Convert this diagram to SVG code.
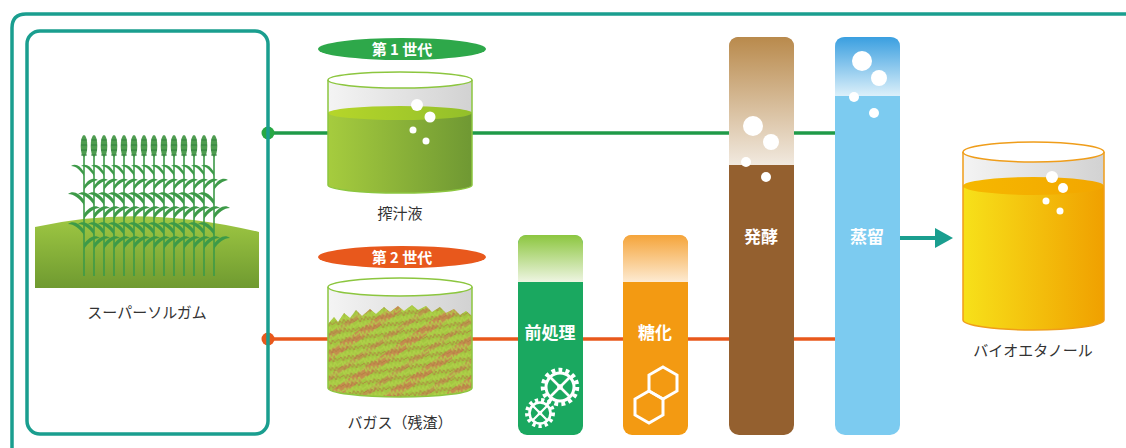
<svg xmlns="http://www.w3.org/2000/svg" xmlns:xlink="http://www.w3.org/1999/xlink" width="1126" height="448" viewBox="0 0 1126 448">
  <style>
    .frame { fill: none; stroke: #1a9e8f; stroke-width: 3.5; }
    .label { font-family: "Noto Sans CJK JP", "Noto Sans", sans-serif; font-size: 15px; fill: #333; text-anchor: middle; }
    .pill { font-family: "Noto Sans CJK JP", "Noto Sans", sans-serif; font-size: 15px; font-weight: bold; fill: #fff; text-anchor: middle; }
    .step { font-family: "Noto Sans CJK JP", "Noto Sans", sans-serif; font-size: 17px; font-weight: bold; fill: #fff; text-anchor: middle; }
    .bubble { fill: #fff; }
    .icon { fill: none; stroke: #fff; }
  </style>
  <defs>
    <linearGradient id="ground" x1="0" y1="0" x2="0" y2="1">
      <stop offset="0" stop-color="#9fc843"/>
      <stop offset="1" stop-color="#6f9a30"/>
    </linearGradient>
    <linearGradient id="glass" x1="0" y1="0" x2="1" y2="0">
      <stop offset="0" stop-color="#f4f4f4"/>
      <stop offset="1" stop-color="#d2d2d2"/>
    </linearGradient>
    <linearGradient id="juice" x1="0" y1="0" x2="1" y2="0">
      <stop offset="0" stop-color="#a6cc3e"/>
      <stop offset="1" stop-color="#6f9833"/>
    </linearGradient>
    <linearGradient id="juiceTop" x1="0" y1="0" x2="1" y2="0">
      <stop offset="0" stop-color="#b6d62a"/>
      <stop offset="1" stop-color="#93bf2a"/>
    </linearGradient>
    <linearGradient id="ethanol" x1="0" y1="0" x2="1" y2="0">
      <stop offset="0" stop-color="#f7e11a"/>
      <stop offset="1" stop-color="#f0a000"/>
    </linearGradient>
    <linearGradient id="ethanolTop" x1="0" y1="0" x2="1" y2="0">
      <stop offset="0" stop-color="#f6b800"/>
      <stop offset="1" stop-color="#f2a600"/>
    </linearGradient>
    <linearGradient id="preTop" x1="0" y1="0" x2="0" y2="1">
      <stop offset="0" stop-color="#8cc63f"/>
      <stop offset="1" stop-color="#eef5e2"/>
    </linearGradient>
    <linearGradient id="sugarTop" x1="0" y1="0" x2="0" y2="1">
      <stop offset="0" stop-color="#f5a43a"/>
      <stop offset="1" stop-color="#fdebd2"/>
    </linearGradient>
    <linearGradient id="fermTop" x1="0" y1="0" x2="0" y2="1">
      <stop offset="0" stop-color="#b98a4c"/>
      <stop offset="1" stop-color="#f1e9df"/>
    </linearGradient>
    <linearGradient id="distTop" x1="0" y1="0" x2="0" y2="1">
      <stop offset="0" stop-color="#3a9fe0"/>
      <stop offset="1" stop-color="#dcf0fa"/>
    </linearGradient>
    <!-- diagonal colour banding of the fibres -->
    <pattern id="bands" width="34" height="34" patternUnits="userSpaceOnUse" patternTransform="rotate(-35)">
      <rect width="34" height="34" fill="#a4c641"/>
      <rect y="0" width="34" height="9" fill="#c48d4e"/>
      <rect y="20" width="34" height="5" fill="#b99a4c"/>
    </pattern>
    <!-- jagged straw strokes -->
    <pattern id="fibre" width="22" height="9" patternUnits="userSpaceOnUse" patternTransform="rotate(-8)">
      <polyline points="0,3 2,0 3,5 5,1 7,6 9,0 11,5 13,1 15,6 17,0 19,4 22,2" fill="none" stroke="#b2d24a" stroke-width="1.2" opacity="0.85"/>
      <polyline points="0,7 2,5 4,9 6,5 8,8 10,4 12,8 14,5 16,9 18,5 20,8 22,6" fill="none" stroke="#b07a40" stroke-width="1" opacity="0.7"/>
    </pattern>
    <clipPath id="bagasseClip">
      <path d="M328,324 L334,317 L338,322 L344,313 L350,318 L356,310 L362,316 L370,309 L376,314 L384,307 L390,312 L398,306 L404,311 L412,305 L418,310 L426,306 L432,312 L440,307 L446,313 L454,309 L460,315 L466,311 L472,316 V388 A72,9 0 0 1 328,388 Z"/>
    </clipPath>
    <!-- one sorghum stalk, base at origin -->
    <g id="stalk">
      <path d="M0,0 V-124" stroke="#3d9a48" stroke-width="1.6" fill="none"/>
      <ellipse cx="0" cy="-130" rx="3.3" ry="11" fill="#4f9c50"/>
      <path d="M-3,-136 H3 M-3,-131 H3 M-3,-126 H3 M-3,-121 H3" stroke="#2f7d3c" stroke-width="0.9"/>
      <path d="M0,-104 C-4,-111 -9,-113 -13,-110 C-8,-110 -4,-106 0,-100 Z" fill="#3d9a48"/>
      <path d="M0,-90 C4,-97 10,-99 14,-96 C9,-95 4,-92 0,-86 Z" fill="#3d9a48"/>
      <path d="M0,-76 C-5,-83 -11,-86 -16,-82 C-10,-82 -5,-78 0,-71 Z" fill="#3d9a48"/>
      <path d="M0,-62 C5,-69 11,-72 16,-68 C10,-68 5,-64 0,-57 Z" fill="#3d9a48"/>
      <path d="M0,-46 C-5,-53 -11,-56 -16,-52 C-10,-52 -5,-48 0,-41 Z" fill="#3d9a48"/>
      <path d="M0,-32 C5,-39 11,-42 16,-38 C10,-38 5,-34 0,-27 Z" fill="#3d9a48"/>
    </g>
    <!-- gear wheels -->
    <g id="gearLarge">
      <circle r="17" class="icon" stroke-width="4.5" stroke-dasharray="3.8 3.3"/>
      <circle r="14" class="icon" stroke-width="3"/>
      <path d="M-10,-10 L10,10 M10,-10 L-10,10" class="icon" stroke-width="2.6"/>
      <circle r="2.8" fill="#fff"/>
    </g>
    <g id="gearSmall">
      <circle r="13" class="icon" stroke-width="4" stroke-dasharray="3.2 3"/>
      <circle r="10.5" class="icon" stroke-width="2.6"/>
      <path d="M-7.5,-7.5 L7.5,7.5 M7.5,-7.5 L-7.5,7.5" class="icon" stroke-width="2.2"/>
      <circle r="2.3" fill="#fff"/>
    </g>
  </defs>

  <rect width="1126" height="448" fill="#fff"/>

  <!-- outer frame -->
  <path class="frame" d="M12,448 V28 Q12,14 26,14 H1126"/>

  <!-- connectors -->
  <g id="connectors">
    <line x1="268" y1="133" x2="836" y2="133" stroke="#1f9a48" stroke-width="3.5"/>
    <line x1="268" y1="339" x2="836" y2="339" stroke="#e8581c" stroke-width="3.5"/>
    <circle cx="268" cy="133" r="6.5" fill="#27a844"/>
    <circle cx="268" cy="339" r="6.5" fill="#e8581c"/>
    <line x1="900" y1="238" x2="938" y2="238" stroke="#1a9e8f" stroke-width="4"/>
    <polygon points="935,228 953,238 935,248" fill="#1a9e8f"/>
  </g>

  <!-- super sorghum panel -->
  <g id="sorghum">
    <rect x="27" y="31" width="241" height="403" rx="13" class="frame"/>
    <path d="M35,227 Q140,203 259,232 V288 H35 Z" fill="url(#ground)"/>
    <use xlink:href="#stalk" x="84" y="276"/>
    <use xlink:href="#stalk" x="94" y="276"/>
    <use xlink:href="#stalk" x="104" y="276"/>
    <use xlink:href="#stalk" x="114" y="276"/>
    <use xlink:href="#stalk" x="124" y="276"/>
    <use xlink:href="#stalk" x="134" y="276"/>
    <use xlink:href="#stalk" x="144" y="276"/>
    <use xlink:href="#stalk" x="154" y="276"/>
    <use xlink:href="#stalk" x="164" y="276"/>
    <use xlink:href="#stalk" x="174" y="276"/>
    <use xlink:href="#stalk" x="184" y="276"/>
    <use xlink:href="#stalk" x="194" y="276"/>
    <use xlink:href="#stalk" x="204" y="276"/>
    <use xlink:href="#stalk" x="214" y="276"/>
    <text x="147" y="318" class="label" font-size="16">スーパーソルガム</text>
  </g>

  <!-- first generation: squeezed juice -->
  <g id="juice-cup">
    <ellipse cx="402" cy="49" rx="84" ry="11" fill="#2ea84a"/>
    <text x="402" y="54.5" class="pill">第 1 世代</text>
    <path d="M328,80 V185 A72,8 0 0 0 472,185 V80 Z" fill="url(#glass)"/>
    <path d="M328,113 V185 A72,8 0 0 0 472,185 V113 Z" fill="url(#juice)"/>
    <ellipse cx="400" cy="113" rx="72" ry="7" fill="url(#juiceTop)"/>
    <path d="M328,80 V185 A72,8 0 0 0 472,185 V80" fill="none" stroke="#8cc63f" stroke-width="1.5"/>
    <ellipse cx="400" cy="80" rx="72" ry="8" fill="#fff" stroke="#8cc63f" stroke-width="1.5"/>
    <circle cx="417" cy="105" r="6" class="bubble"/>
    <circle cx="430" cy="117" r="5.5" class="bubble"/>
    <circle cx="413" cy="130" r="3.5" class="bubble"/>
    <circle cx="426" cy="141" r="3.5" class="bubble"/>
    <text x="400" y="219" class="label">搾汁液</text>
  </g>

  <!-- second generation: bagasse -->
  <g id="bagasse-cup">
    <ellipse cx="402" cy="257" rx="84" ry="11" fill="#e8581c"/>
    <text x="402" y="262.5" class="pill">第 2 世代</text>
    <path d="M328,287 V388 A72,9 0 0 0 472,388 V287 Z" fill="url(#glass)"/>
    <g clip-path="url(#bagasseClip)">
      <rect x="320" y="295" width="160" height="105" fill="url(#bands)"/>
      <rect x="320" y="295" width="160" height="105" fill="url(#fibre)"/>
    </g>
    <path d="M328,287 V388 A72,9 0 0 0 472,388 V287" fill="none" stroke="#8cc63f" stroke-width="1.5"/>
    <ellipse cx="400" cy="287" rx="72" ry="9" fill="#fff" stroke="#8cc63f" stroke-width="1.5"/>
    <text x="400" y="428" class="label">バガス（残渣）</text>
  </g>

  <!-- pretreatment -->
  <g id="pretreatment">
    <rect x="518" y="235" width="65" height="200" rx="9" fill="#1aa860"/>
    <path d="M518,282 V244 Q518,235 527,235 H574 Q583,235 583,244 V282 Z" fill="url(#preTop)"/>
    <text x="550" y="339" class="step">前処理</text>
    <use xlink:href="#gearLarge" x="560" y="387"/>
    <use xlink:href="#gearSmall" x="540" y="413"/>
  </g>

  <!-- saccharification -->
  <g id="saccharification">
    <rect x="623" y="235" width="65" height="200" rx="9" fill="#f39a12"/>
    <path d="M623,282 V244 Q623,235 632,235 H679 Q688,235 688,244 V282 Z" fill="url(#sugarTop)"/>
    <text x="655" y="339" class="step">糖化</text>
    <polygon class="icon" stroke-width="3" points="663,367 677,375 677,391 663,399 649,391 649,375"/>
    <polygon class="icon" stroke-width="3" points="649,391 663,399 663,415 649,423 635,415 635,399"/>
  </g>

  <!-- fermentation -->
  <g id="fermentation">
    <rect x="729" y="37" width="65" height="398" rx="10" fill="#94602f"/>
    <path d="M729,165 V47 Q729,37 739,37 H784 Q794,37 794,47 V165 Z" fill="url(#fermTop)"/>
    <circle cx="753" cy="126" r="10" class="bubble"/>
    <circle cx="771" cy="142" r="8" class="bubble"/>
    <circle cx="746" cy="162" r="5" class="bubble"/>
    <circle cx="766" cy="177" r="5" class="bubble"/>
    <text x="761" y="243" class="step">発酵</text>
  </g>

  <!-- distillation -->
  <g id="distillation">
    <rect x="835" y="37" width="65" height="398" rx="10" fill="#7ccbf0"/>
    <path d="M835,96 V47 Q835,37 845,37 H890 Q900,37 900,47 V96 Z" fill="url(#distTop)"/>
    <circle cx="862" cy="61" r="10" class="bubble"/>
    <circle cx="879" cy="78" r="8" class="bubble"/>
    <circle cx="854" cy="97" r="5" class="bubble"/>
    <circle cx="874" cy="113" r="5" class="bubble"/>
    <text x="867" y="243" class="step">蒸留</text>
  </g>

  <!-- bioethanol -->
  <g id="bioethanol">
    <path d="M963,152 V320 A70.5,10 0 0 0 1104,320 V152 Z" fill="url(#glass)"/>
    <path d="M963,186 V320 A70.5,10 0 0 0 1104,320 V186 Z" fill="url(#ethanol)"/>
    <ellipse cx="1033.5" cy="186" rx="70.5" ry="9" fill="url(#ethanolTop)"/>
    <path d="M963,152 V320 A70.5,10 0 0 0 1104,320 V152" fill="none" stroke="#ef9d1a" stroke-width="1.5"/>
    <ellipse cx="1033.5" cy="152" rx="70.5" ry="10" fill="#fff" stroke="#ef9d1a" stroke-width="1.5"/>
    <circle cx="1052" cy="177" r="6" class="bubble"/>
    <circle cx="1063" cy="188" r="5" class="bubble"/>
    <circle cx="1046" cy="201" r="3.5" class="bubble"/>
    <circle cx="1060" cy="211" r="3.5" class="bubble"/>
    <text x="1033" y="356" class="label">バイオエタノール</text>
  </g>
</svg>
